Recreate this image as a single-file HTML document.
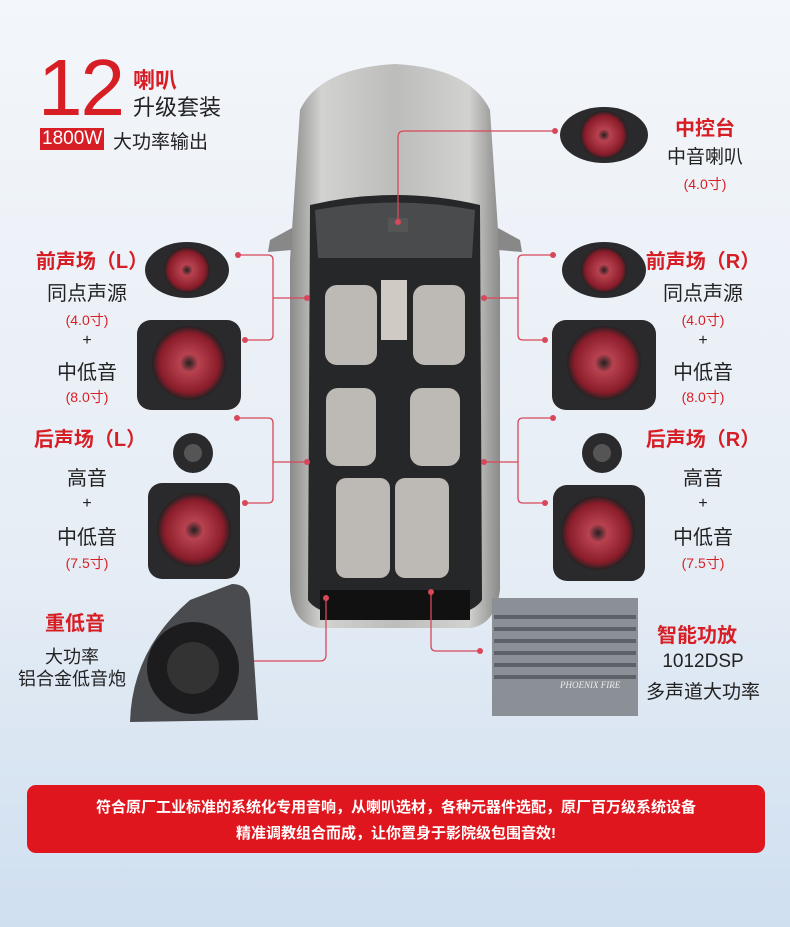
<!DOCTYPE html>
<html><head><meta charset="utf-8"><style>
body{margin:0;width:790px;height:927px;overflow:hidden;background:linear-gradient(#f3f6fa,#e6edf5 60%,#cfdff0);font-family:"Liberation Sans","Noto Sans CJK SC",sans-serif;position:relative}
.t{position:absolute;white-space:nowrap;text-align:center;transform:translateX(-50%);font-size:20px;color:#222}
.r{color:#d81e25;font-weight:bold}
.s{font-size:14px;color:#d81e25}
</style></head><body>
<svg width="790" height="927" style="position:absolute;left:0;top:0">
<defs>
<radialGradient id="cone" cx="50%" cy="50%" r="50%"><stop offset="0" stop-color="#222"/><stop offset=".25" stop-color="#b8424f"/><stop offset=".8" stop-color="#8a1c2a"/><stop offset="1" stop-color="#222"/></radialGradient>
<linearGradient id="body" x1="0" x2="1"><stop offset="0" stop-color="#8a8a88"/><stop offset=".15" stop-color="#d2d2d0"/><stop offset=".5" stop-color="#bcbcba"/><stop offset=".85" stop-color="#d2d2d0"/><stop offset="1" stop-color="#8a8a88"/></linearGradient>
</defs>
<path d="M300 110 Q320 68 395 64 Q470 68 490 110 L500 260 L500 590 Q495 625 470 628 L320 628 Q293 625 290 590 L290 260 Z" fill="url(#body)"/>
<path d="M270 240 L292 228 L292 250 L268 252Z M520 240 L498 228 L498 250 L522 252Z" fill="#888"/>
<path d="M310 205 Q395 185 480 205 L482 600 Q470 620 395 620 Q320 620 308 600 Z" fill="#262728"/>
<path d="M315 210 Q395 195 475 210 L472 258 L318 258Z" fill="#4a4b4d"/>
<rect x="388" y="218" width="20" height="14" fill="#555"/>
<g fill="#bdb9b4">
<rect x="325" y="285" width="52" height="80" rx="12"/><rect x="413" y="285" width="52" height="80" rx="12"/>
<rect x="381" y="280" width="26" height="60" fill="#cfcac4"/>
<rect x="326" y="388" width="50" height="78" rx="12"/><rect x="410" y="388" width="50" height="78" rx="12"/>
<rect x="336" y="478" width="54" height="100" rx="10"/><rect x="395" y="478" width="54" height="100" rx="10"/>
</g>
<rect x="320" y="590" width="150" height="30" fill="#111"/>
<g stroke="#d9475a" stroke-width="1.3" fill="none">
<path d="M555 131 H404 Q398 131 398 137 V222"/>
<path d="M238 255 H268 Q273 255 273 260 V335 Q273 340 268 340 H245 M273 298 H307"/>
<path d="M553 255 H523 Q518 255 518 260 V335 Q518 340 523 340 H545 M518 298 H484"/>
<path d="M237 418 H268 Q273 418 273 423 V498 Q273 503 268 503 H245 M273 462 H307"/>
<path d="M553 418 H523 Q518 418 518 423 V498 Q518 503 523 503 H545 M518 462 H484"/>
<path d="M326 598 V655 Q326 661 320 661 H250"/>
<path d="M431 592 V646 Q431 651 436 651 H480"/>
</g>
<g fill="#d9475a">
<circle cx="555" cy="131" r="3"/><circle cx="398" cy="222" r="3"/>
<circle cx="238" cy="255" r="3"/><circle cx="245" cy="340" r="3"/><circle cx="307" cy="298" r="3"/>
<circle cx="553" cy="255" r="3"/><circle cx="545" cy="340" r="3"/><circle cx="484" cy="298" r="3"/>
<circle cx="237" cy="418" r="3"/><circle cx="245" cy="503" r="3"/><circle cx="307" cy="462" r="3"/>
<circle cx="553" cy="418" r="3"/><circle cx="545" cy="503" r="3"/><circle cx="484" cy="462" r="3"/>
<circle cx="326" cy="598" r="3"/><circle cx="431" cy="592" r="3"/><circle cx="480" cy="651" r="3"/>
</g>
<g>
<ellipse cx="604" cy="135" rx="44" ry="28" fill="#2a2a2c"/><circle cx="604" cy="135" r="24" fill="url(#cone)"/>
<ellipse cx="187" cy="270" rx="42" ry="28" fill="#2a2a2c"/><circle cx="187" cy="270" r="23" fill="url(#cone)"/>
<ellipse cx="604" cy="270" rx="42" ry="28" fill="#2a2a2c"/><circle cx="604" cy="270" r="23" fill="url(#cone)"/>
<rect x="137" y="320" width="104" height="90" rx="14" fill="#2a2a2c"/><circle cx="189" cy="363" r="37" fill="url(#cone)"/>
<rect x="552" y="320" width="104" height="90" rx="14" fill="#2a2a2c"/><circle cx="604" cy="363" r="37" fill="url(#cone)"/>
<circle cx="193" cy="453" r="20" fill="#2a2a2c"/><circle cx="193" cy="453" r="9" fill="#555"/>
<circle cx="602" cy="453" r="20" fill="#2a2a2c"/><circle cx="602" cy="453" r="9" fill="#555"/>
<rect x="148" y="483" width="92" height="96" rx="14" fill="#2a2a2c"/><circle cx="194" cy="530" r="37" fill="url(#cone)"/>
<rect x="553" y="485" width="92" height="96" rx="14" fill="#2a2a2c"/><circle cx="598" cy="533" r="37" fill="url(#cone)"/>
</g>
<path d="M130 722 Q132 650 190 600 L232 584 Q248 584 250 600 L258 720 Z" fill="#4a4b4e"/>
<circle cx="193" cy="668" r="46" fill="#1c1c1e"/><circle cx="193" cy="668" r="26" fill="#333"/>
<rect x="492" y="598" width="146" height="118" fill="#8b9097"/>
<g fill="#5d6168"><rect x="494" y="615" width="142" height="4"/><rect x="494" y="627" width="142" height="4"/><rect x="494" y="639" width="142" height="4"/><rect x="494" y="651" width="142" height="4"/><rect x="494" y="663" width="142" height="4"/><rect x="494" y="675" width="142" height="4"/></g>
<text x="560" y="688" font-size="9" font-style="italic" fill="#eee" font-family="Liberation Serif">PHOENIX FIRE</text>
<rect x="27" y="785" width="738" height="68" rx="9" fill="#e0161e"/>
</svg>
<div style="position:absolute;left:38px;top:48px;font-size:80px;color:#d81e25;line-height:80px;letter-spacing:-2px">12</div>
<div class="r" style="position:absolute;left:133px;top:63px;font-size:22px">喇叭</div>
<div style="position:absolute;left:133px;top:90px;font-size:22px;color:#222">升级套装</div>
<div style="position:absolute;left:40px;top:128px;background:#d81e25;color:#fff;font-size:19px;line-height:22px;padding:0 2px">1800W</div>
<div style="position:absolute;left:113px;top:127px;font-size:19px;color:#222">大功率输出</div>
<div class="t r" style="left:705px;top:112px">中控台</div>
<div class="t" style="left:705px;top:142px;font-size:19px">中音喇叭</div>
<div class="t s" style="left:705px;top:174px">(4.0寸)</div>
<div class="t r" style="left:92px;top:245px">前声场（L）</div>
<div class="t" style="left:87px;top:277px">同点声源</div>
<div class="t s" style="left:87px;top:310px">(4.0寸)</div>
<div class="t" style="left:87px;top:332px;font-size:16px">+</div>
<div class="t" style="left:87px;top:356px">中低音</div>
<div class="t s" style="left:87px;top:387px">(8.0寸)</div>
<div class="t r" style="left:703px;top:245px">前声场（R）</div>
<div class="t" style="left:703px;top:277px">同点声源</div>
<div class="t s" style="left:703px;top:310px">(4.0寸)</div>
<div class="t" style="left:703px;top:332px;font-size:16px">+</div>
<div class="t" style="left:703px;top:356px">中低音</div>
<div class="t s" style="left:703px;top:387px">(8.0寸)</div>
<div class="t r" style="left:90px;top:423px">后声场（L）</div>
<div class="t" style="left:87px;top:462px">高音</div>
<div class="t" style="left:87px;top:495px;font-size:16px">+</div>
<div class="t" style="left:87px;top:521px">中低音</div>
<div class="t s" style="left:87px;top:553px">(7.5寸)</div>
<div class="t r" style="left:703px;top:423px">后声场（R）</div>
<div class="t" style="left:703px;top:462px">高音</div>
<div class="t" style="left:703px;top:495px;font-size:16px">+</div>
<div class="t" style="left:703px;top:521px">中低音</div>
<div class="t s" style="left:703px;top:553px">(7.5寸)</div>
<div class="t r" style="left:75px;top:607px">重低音</div>
<div class="t" style="left:72px;top:643px;font-size:18px">大功率</div>
<div class="t" style="left:72px;top:665px;font-size:18px">铝合金低音炮</div>
<div class="t r" style="left:697px;top:619px">智能功放</div>
<div class="t" style="left:703px;top:651px;font-size:19px">1012DSP</div>
<div class="t" style="left:703px;top:677px;font-size:19px">多声道大功率</div>
<div class="t" style="left:396px;top:796px;font-size:15px;color:#fff;font-weight:bold">符合原厂工业标准的系统化专用音响，从喇叭选材，各种元器件选配，原厂百万级系统设备</div>
<div class="t" style="left:396px;top:822px;font-size:15px;color:#fff;font-weight:bold">精准调教组合而成，让你置身于影院级包围音效!</div>
</body></html>
